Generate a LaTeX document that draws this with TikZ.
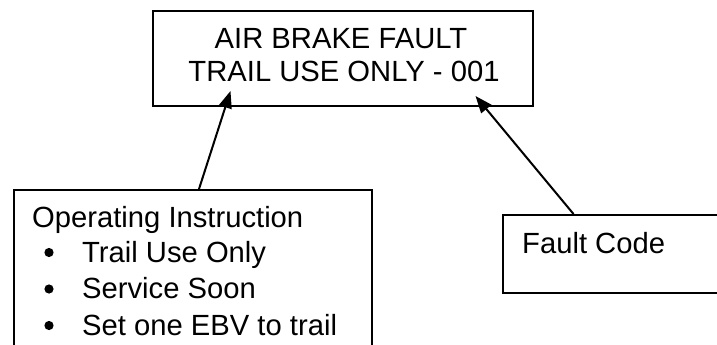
\documentclass[tikz,border=0pt]{standalone}
\usepackage{fontspec}
\setmainfont{Liberation Sans}
\usetikzlibrary{arrows.meta}
\begin{document}
\begin{tikzpicture}[x=1pt,y=-1pt,
  box/.style={draw=black,line width=1.8pt,fill=white,inner sep=0pt},
  txt/.style={inner sep=0pt,font=\fontsize{29.2}{33}\selectfont},
  conn/.style={draw=black,line width=2pt,-{Triangle[length=17pt,width=13pt]}},
  bul/.style={fill=black}]
\useasboundingbox (0,0) rectangle (717,345);
% boxes
\node[box,minimum width=380pt,minimum height=95pt] (display) at (343,58.5) {};
\node[box,minimum width=358pt,minimum height=200pt,anchor=north west] (instr) at (13,189) {};
\node[box,minimum width=240pt,minimum height=78pt,anchor=north west] (fault) at (502,214) {};
% display text
\node[txt,anchor=base] (l1) at (341,48.3) {AIR BRAKE FAULT};
\node[txt,anchor=base] (l2) at (344,81.7) {TRAIL USE ONLY - 001};
% instruction text
\node[txt,anchor=base west] (op) at (32,227) {Operating Instruction};
\node[txt,anchor=base west] (b1) at (82,262) {Trail Use Only};
\node[txt,anchor=base west] (b2) at (82,298.5) {Service Soon};
\node[txt,anchor=base west] (b3) at (82,335) {Set one EBV to trail};
\fill[bul] (49,252.5) circle (4.6pt);
\fill[bul] (49,289) circle (4.6pt);
\fill[bul] (49,325.5) circle (4.6pt);
% fault code text
\node[txt,anchor=base west] (fc) at (522,253) {Fault Code};
% connectors
\coordinate (sL) at (199,189);
\coordinate (tL) at (230.5,91);
\coordinate (sR) at (573.5,214);
\coordinate (tR) at (475.5,96);
\draw[conn] (sL) -- (tL);
\draw[conn] (sR) -- (tR);
\end{tikzpicture}
\end{document}
